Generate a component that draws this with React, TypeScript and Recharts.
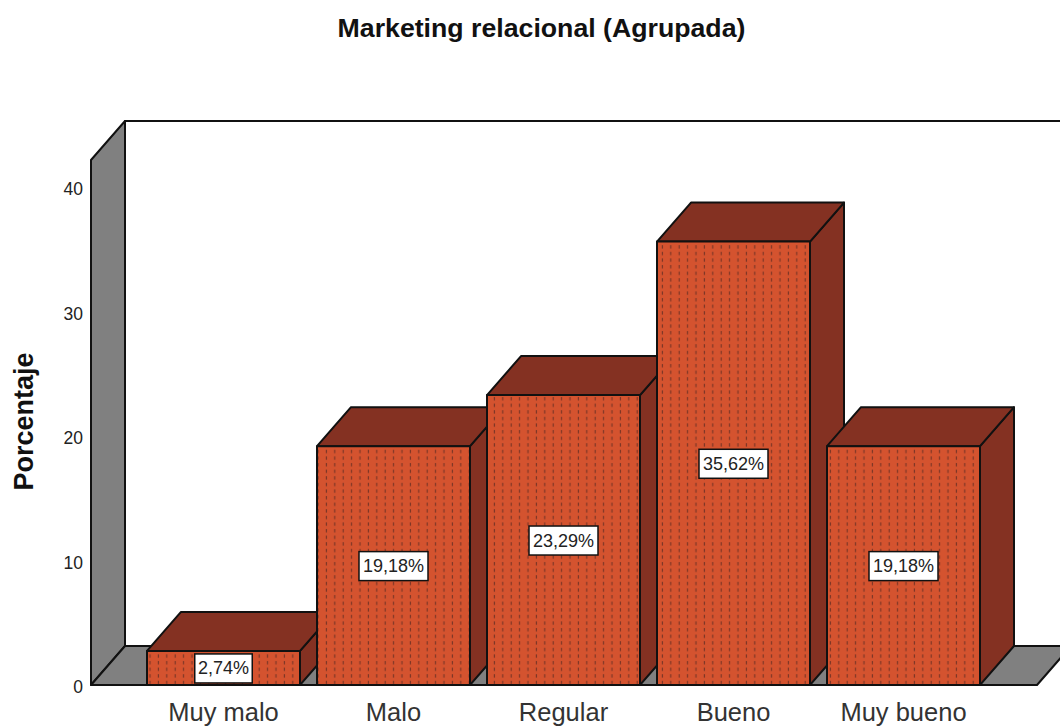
import React from "react";
import { BarChart, Bar, XAxis, YAxis, ReferenceArea, LabelList } from "recharts";

const categories = ["Muy malo", "Malo", "Regular", "Bueno", "Muy bueno"];
const percentages = [2.74, 19.18, 23.29, 35.62, 19.18];
const valueLabels = ["2,74%", "19,18%", "23,29%", "35,62%", "19,18%"];
const yTicks = [0, 10, 20, 30, 40];
const yMax = 42.17;

const rows = categories.map((name, i) => ({ name, value: percentages[i], label: valueLabels[i] }));

const DX = 34;
const DY = 39;
const PAD_L = 47.5;
const PAD_R = 48.5;
const FRONT = "#D4532F";
const DARK = "#843122";
const WALL = "#808080";
const INK = "#111";
const FONT = "'Liberation Sans', Arial, sans-serif";

function Bar3D(props: any) {
  const { x, y, width, height } = props;
  const r = x + width;
  const b = y + height;
  return (
    <g stroke={INK} strokeWidth={2} strokeLinejoin="round">
      <polygon points={`${r},${y} ${r + DX},${y - DY} ${r + DX},${b - DY} ${r},${b}`} fill={DARK} />
      <polygon points={`${x},${y} ${x + DX},${y - DY} ${r + DX},${y - DY} ${r},${y}`} fill={DARK} />
      <rect x={x} y={y} width={width} height={height} fill={FRONT} />
      <rect x={x + 1} y={y + 1} width={width - 2} height={height - 2} fill="url(#dots)" stroke="none" />
    </g>
  );
}

function Walls(props: any) {
  const { x: x0, y, width, height } = props;
  const x = x0 - PAD_L;
  const r = x0 + width + PAD_R;
  const b = y + height;
  return (
    <g stroke={INK} strokeWidth={2} strokeLinejoin="round">
      <polygon points={`${x + DX},${y - DY} ${r + DX},${y - DY} ${r + DX},${b - DY} ${x + DX},${b - DY}`} fill="#fff" />
      <polygon points={`${x},${y} ${x + DX},${y - DY} ${x + DX},${b - DY} ${x},${b}`} fill={WALL} />
      <polygon points={`${x},${b} ${x + DX},${b - DY} ${r + DX},${b - DY} ${r},${b}`} fill={WALL} />
    </g>
  );
}

function ValueLabel(props: any) {
  const { x, y, width, height, value } = props;
  const cx = x + width / 2;
  const cy = y + height / 2;
  const w = String(value).length * 11.5;
  return (
    <g>
      <rect x={cx - w / 2} y={cy - 14} width={w} height={29} fill="#fff" stroke={INK} strokeWidth={1.5} />
      <text x={cx} y={cy + 6.5} textAnchor="middle" fontFamily={FONT} fontSize={18} fill="#222">{value}</text>
    </g>
  );
}

function AxisTitle(props: any) {
  const { viewBox } = props;
  const cy = viewBox.y + viewBox.height / 2 - 1;
  return (
    <text x={33} y={cy} transform={`rotate(-90 33 ${cy})`} textAnchor="middle" fontFamily={FONT} fontWeight="bold" fontSize={27} fill="#111">
      Porcentaje
    </text>
  );
}

export default function App() {
  return (
    <div style={{ position: "absolute", left: 0, top: 0, width: 1060, height: 726, overflow: "hidden", background: "#fff" }}>
      <div style={{ position: "absolute", top: 13, left: 0, width: 1083, textAlign: "center", fontFamily: FONT, fontWeight: "bold", fontSize: 26.7, color: "#111" }}>
        Marketing relacional (Agrupada)
      </div>
      <BarChart
        width={1060}
        height={726}
        data={rows}
        margin={{ top: 160, right: 23, bottom: 0, left: 0 }}
        barCategoryGap="5%"
        style={{ position: "absolute", left: 0, top: 0 }}
      >
        <defs>
          <pattern id="dots" patternUnits="userSpaceOnUse" width={8.4} height={6.6} x={4}>
            <rect x={2.6} y={1} width={1.2} height={3.4} fill="#7c3626" />
          </pattern>
        </defs>
        <XAxis
          dataKey="name"
          height={41}
          interval={0}
          padding={{ left: PAD_L, right: PAD_R }}
          axisLine={false}
          tickLine={false}
          tickMargin={12}
          tick={{ fontFamily: FONT, fontSize: 25.5, fill: "#333" }}
        />
        <YAxis
          width={91}
          domain={[0, yMax]}
          ticks={yTicks}
          allowDataOverflow
          axisLine={false}
          tickLine={false}
          tickMargin={0}
          tick={{ fontFamily: FONT, fontSize: 17.5, fill: "#222", dx: -2, dy: 2 }}
          label={<AxisTitle />}
        />
        <ReferenceArea y1={0} y2={yMax} shape={<Walls />} ifOverflow="visible" />
        <Bar dataKey="value" shape={<Bar3D />} isAnimationActive={false}>
          <LabelList dataKey="label" content={<ValueLabel />} />
        </Bar>
      </BarChart>
    </div>
  );
}
